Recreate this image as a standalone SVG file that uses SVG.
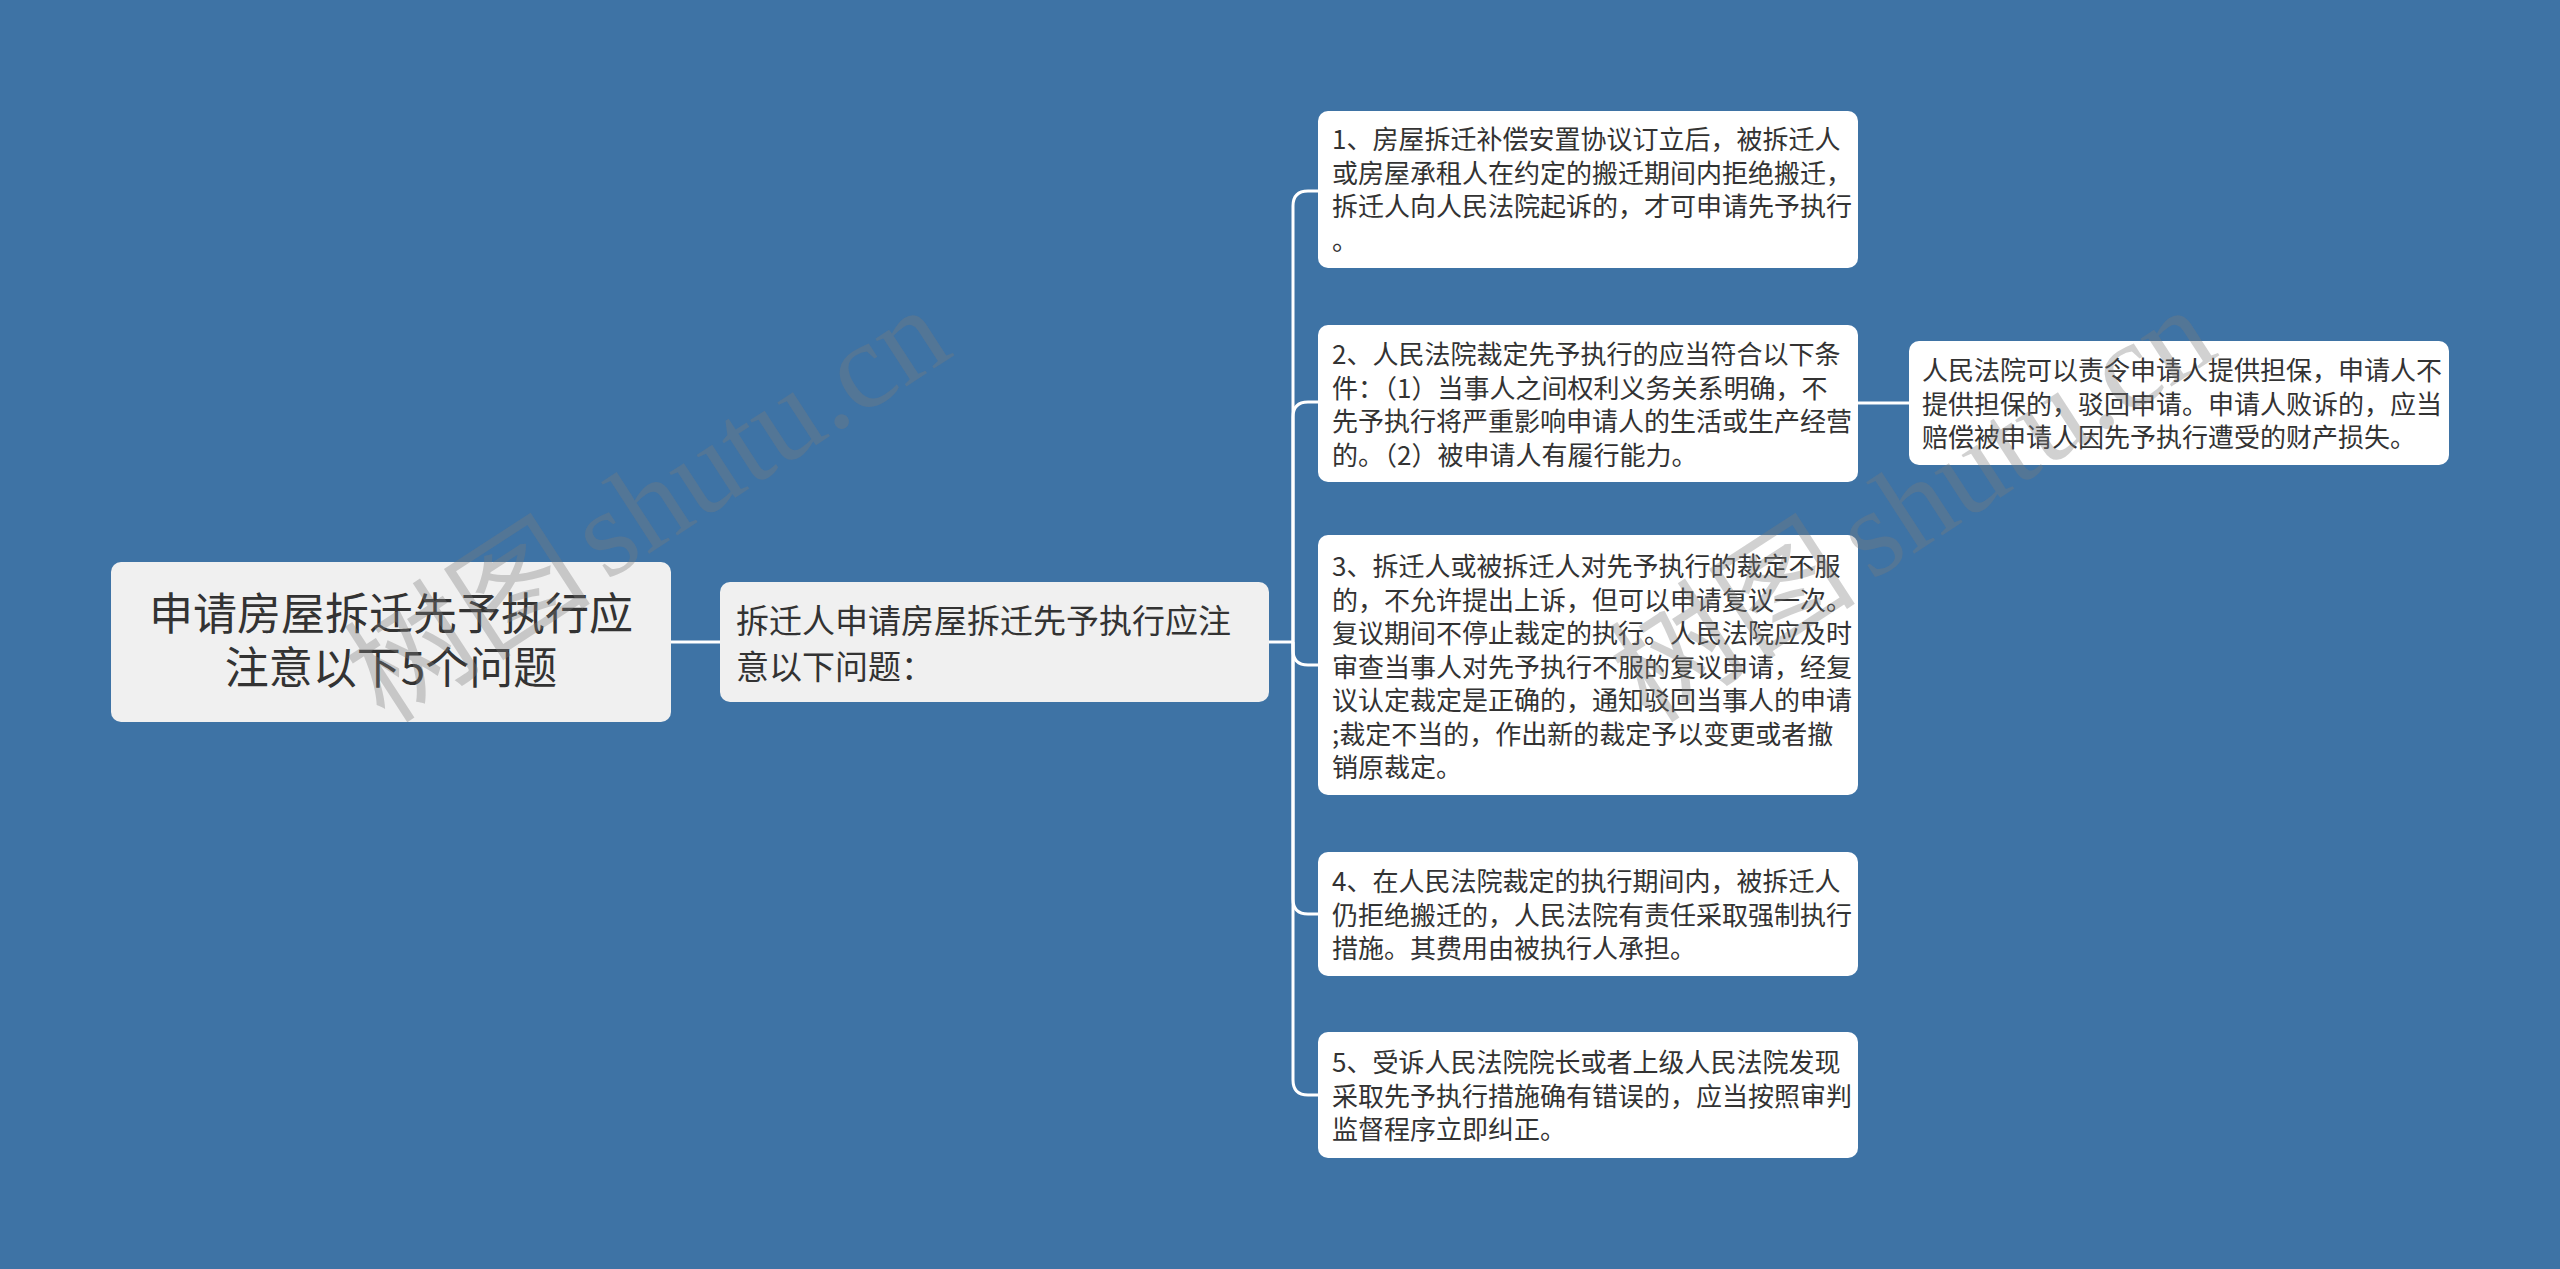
<svg xmlns="http://www.w3.org/2000/svg" width="2560" height="1269" viewBox="0 0 2560 1269">
<style>
.bg{fill:#3e73a5}
.main{fill:#f0f0f0}
.leaf{fill:#ffffff}
.t{font-family:"Noto Sans CJK SC","Noto Sans",sans-serif;fill:#333333}
.rt{font-size:44px}
.mt{font-size:33px}
.lt{font-size:26px}
.conn{fill:none;stroke:#ffffff;stroke-width:3}
.wm{font-size:124px;fill:#7a7a7a;fill-opacity:0.35}
</style>
<rect class="bg" x="0" y="0" width="2560" height="1269"/>
<g id="connectors">
<path class="conn" d="M671 642 H720"/>
<path class="conn" d="M1269 642 H1293"/>
<path class="conn" d="M1293 642 V206 Q1293 191 1308 191 H1318"/>
<path class="conn" d="M1293 642 V417 Q1293 402 1308 402 H1318"/>
<path class="conn" d="M1293 642 V650 Q1293 665 1308 665 H1318"/>
<path class="conn" d="M1293 642 V899 Q1293 914 1308 914 H1318"/>
<path class="conn" d="M1293 642 V1080 Q1293 1095 1308 1095 H1318"/>
<path class="conn" d="M1858 403 H1909"/>
</g>
<g id="root">
<rect class="main" x="111" y="562" width="560" height="160" rx="10"/>
<text class="t rt" x="391" y="630" text-anchor="middle">申请房屋拆迁先予执行应</text>
<text class="t rt" x="391" y="684" text-anchor="middle">注意以下5个问题</text>
</g>
<g id="sub">
<rect class="main" x="720" y="582" width="549" height="120" rx="10"/>
<text class="t mt" x="736" y="633">拆迁人申请房屋拆迁先予执行应注</text>
<text class="t mt" x="736" y="679">意以下问题：</text>
</g>
<g id="n1">
<rect class="leaf" x="1318" y="111" width="540" height="157" rx="10"/>
<text class="t lt" x="1332" y="149">1、房屋拆迁补偿安置协议订立后，被拆迁人</text>
<text class="t lt" x="1332" y="182.5">或房屋承租人在约定的搬迁期间内拒绝搬迁，</text>
<text class="t lt" x="1332" y="216">拆迁人向人民法院起诉的，才可申请先予执行</text>
<text class="t lt" x="1332" y="249.5">。</text>
</g>
<g id="n2">
<rect class="leaf" x="1318" y="325" width="540" height="157" rx="10"/>
<text class="t lt" x="1332" y="364">2、人民法院裁定先予执行的应当符合以下条</text>
<text class="t lt" x="1332" y="397.5">件：（1）当事人之间权利义务关系明确，不</text>
<text class="t lt" x="1332" y="431">先予执行将严重影响申请人的生活或生产经营</text>
<text class="t lt" x="1332" y="464.5">的。（2）被申请人有履行能力。</text>
</g>
<g id="n3">
<rect class="leaf" x="1318" y="535" width="540" height="260" rx="10"/>
<text class="t lt" x="1332" y="576">3、拆迁人或被拆迁人对先予执行的裁定不服</text>
<text class="t lt" x="1332" y="609.5">的，不允许提出上诉，但可以申请复议一次。</text>
<text class="t lt" x="1332" y="643">复议期间不停止裁定的执行。人民法院应及时</text>
<text class="t lt" x="1332" y="676.5">审查当事人对先予执行不服的复议申请，经复</text>
<text class="t lt" x="1332" y="710">议认定裁定是正确的，通知驳回当事人的申请</text>
<text class="t lt" x="1332" y="743.5">;裁定不当的，作出新的裁定予以变更或者撤</text>
<text class="t lt" x="1332" y="777">销原裁定。</text>
</g>
<g id="n4">
<rect class="leaf" x="1318" y="852" width="540" height="124" rx="10"/>
<text class="t lt" x="1332" y="891">4、在人民法院裁定的执行期间内，被拆迁人</text>
<text class="t lt" x="1332" y="924.5">仍拒绝搬迁的，人民法院有责任采取强制执行</text>
<text class="t lt" x="1332" y="958">措施。其费用由被执行人承担。</text>
</g>
<g id="n5">
<rect class="leaf" x="1318" y="1032" width="540" height="126" rx="10"/>
<text class="t lt" x="1332" y="1072">5、受诉人民法院院长或者上级人民法院发现</text>
<text class="t lt" x="1332" y="1105.5">采取先予执行措施确有错误的，应当按照审判</text>
<text class="t lt" x="1332" y="1139">监督程序立即纠正。</text>
</g>
<g id="n2a">
<rect class="leaf" x="1909" y="341" width="540" height="124" rx="10"/>
<text class="t lt" x="1922" y="380">人民法院可以责令申请人提供担保，申请人不</text>
<text class="t lt" x="1922" y="413.5">提供担保的，驳回申请。申请人败诉的，应当</text>
<text class="t lt" x="1922" y="447">赔偿被申请人因先予执行遭受的财产损失。</text>
</g>
<g id="watermark">
<text class="wm" transform="translate(385 725) rotate(-33)"><tspan font-family="Noto Sans CJK SC, sans-serif">树图</tspan><tspan font-family="Liberation Serif, serif" dx="16">shutu.cn</tspan></text>
<text class="wm" transform="translate(1650 725) rotate(-33)"><tspan font-family="Noto Sans CJK SC, sans-serif">树图</tspan><tspan font-family="Liberation Serif, serif" dx="16">shutu.cn</tspan></text>
</g>
</svg>
